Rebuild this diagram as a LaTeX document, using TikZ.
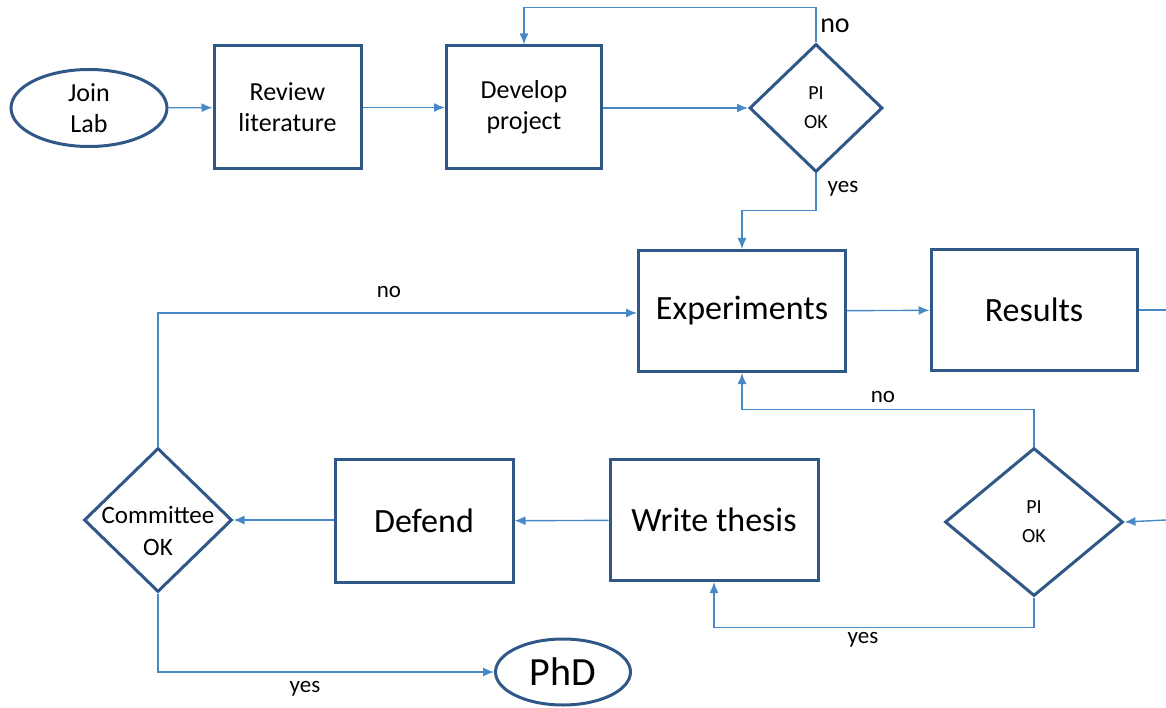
\documentclass[tikz,border=0pt]{standalone}
\usepackage{fontspec}
\setmainfont{Carlito}
\usepackage{tikz}
\usetikzlibrary{arrows.meta, positioning, shapes.geometric}
\definecolor{shapeblue}{RGB}{47,88,135}
\definecolor{linkblue}{RGB}{70,136,200}
\tikzset{
  box/.style={
    draw=shapeblue,
    line width=3pt,
    align=center,
    inner sep=0pt,
    font=\fontsize{26}{31}\selectfont
  },
  bigbox/.style={
    box,
    font=\fontsize{34}{40}\selectfont
  },
  oval/.style={
    box,
    ellipse
  },
  decision/.style={
    box,
    diamond,
    font=\fontsize{20}{29}\selectfont
  },
  arrow/.style={-{Latex[length=11pt,width=9pt]}, draw=linkblue, line width=1.4pt},
  plainline/.style={draw=linkblue, line width=1.4pt},
  lbl/.style={font=\fontsize{23}{27}\selectfont}
}
\begin{document}
\begin{tikzpicture}[x=1pt, y=-1pt]
\useasboundingbox (0,0) rectangle (1166,708);

% top row
\node[oval, minimum width=156pt, minimum height=77pt] (join) at (89,108) {Join\\Lab};
\node[box, minimum width=147pt, minimum height=123pt] (review) at (287.5,107.5) {Review\\literature};
\node[box, minimum width=155pt, minimum height=123pt] (develop) at (524,107.5) {Develop\\project};
\node[decision, minimum width=133pt, minimum height=128pt] (pitop) at (816,108) {PI\\OK};

% middle row
\node[bigbox, minimum width=207pt, minimum height=121pt] (exper) at (742,311) {Experiments};
\node[bigbox, minimum width=206pt, minimum height=121pt] (results) at (1034,310) {Results};

% bottom row
\node[decision, minimum width=178pt, minimum height=148pt] (pibot) at (1034,522) {PI\\OK};
\node[bigbox, minimum width=208pt, minimum height=121pt] (thesis) at (714,520) {Write thesis};
\node[bigbox, minimum width=178pt, minimum height=123pt] (defend) at (424,521) {Defend};
\node[decision, minimum width=148pt, minimum height=144pt,
  label={[align=center, font=\fontsize{25}{32}\selectfont, yshift=-11pt]center:Committee\\OK}] (committee) at (158,520) {};
\node[oval, font=\fontsize{40}{46}\selectfont, minimum width=135pt, minimum height=66pt] (phd) at (563,672) {PhD};

% free ends at the right edge
\coordinate (outR) at (1166,310);
\coordinate (inR) at (1166,520);

% connectors
\draw[arrow] (join) -- (review);
\draw[arrow] (review) -- (develop);
\draw[arrow] (develop.east |- pitop.west) -- (pitop.west);
\draw[arrow] (pitop.north) -- ++(0,-35) -| (develop.north);
\draw[arrow] (pitop.south) -- ++(0,37) -| (exper.north);
\draw[arrow] (exper) -- (results);
\draw[plainline] (results) -- (outR);
\draw[arrow] (inR) -- (pibot.east);
\draw[arrow] (pibot.north) -- ++(0,-37) -| (exper.south);
\draw[arrow] (pibot.south) -- ++(0,30) -| (thesis.south);
\draw[arrow] (thesis) -- (defend);
\draw[arrow] (defend.west |- committee.east) -- (committee.east);
\draw[arrow] (committee.north) |- (exper.west |- 0,313);
\draw[arrow] (committee.south) |- (phd.west);

% labels
\node[lbl, font=\fontsize{28}{32}\selectfont] (nA) at (835,26) {no};
\node[lbl] (yA) at (843,189) {yes};
\node[lbl] (nB) at (389,292) {no};
\node[lbl] (nC) at (883,397) {no};
\node[lbl] (yB) at (863,640) {yes};
\node[lbl] (yC) at (305,689) {yes};
\end{tikzpicture}
\end{document}
